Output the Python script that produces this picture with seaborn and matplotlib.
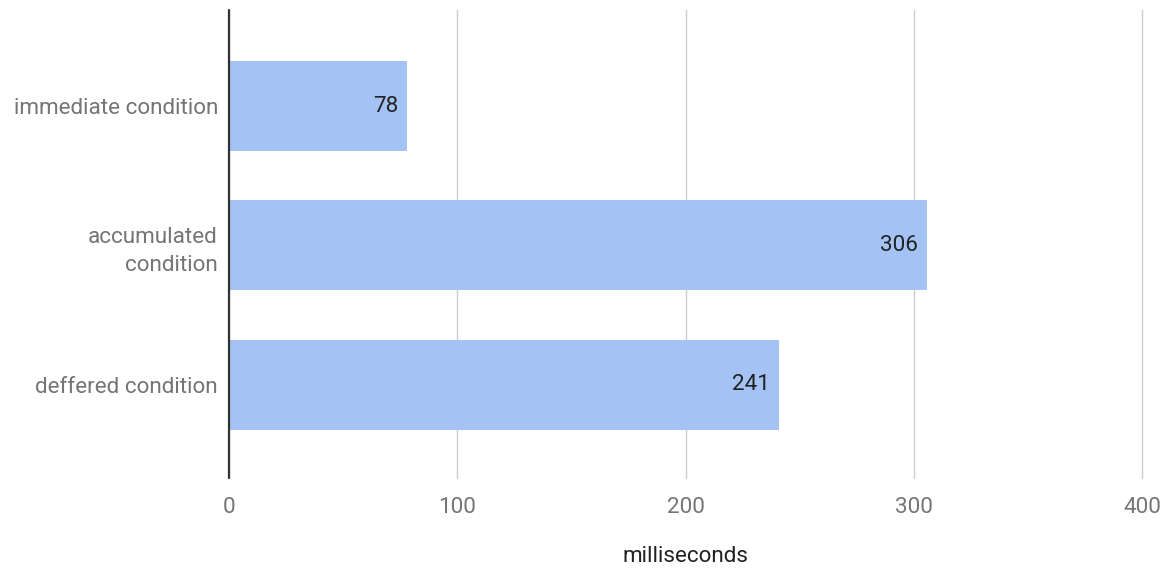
import matplotlib
matplotlib.use("Agg")
import matplotlib.pyplot as plt
import seaborn as sns
import pandas as pd

categories = ["immediate condition", "accumulated\ncondition", "deffered condition"]
values = [78, 306, 241]
xticks = [0, 100, 200, 300, 400]

sns.set_theme(style="white")
plt.rcParams['font.family'] = ['Roboto', 'DejaVu Sans']

df = pd.DataFrame({"cat": categories, "ms": values})

fig = plt.figure(figsize=(11.65, 5.76), dpi=100)
ax = fig.add_axes([229/1165, 1-478/576, (1142-229)/1165, (478-10)/576])

sns.barplot(data=df, x="ms", y="cat", color="#a4c2f4", saturation=1, width=0.645, ax=ax, zorder=2)
for p in ax.patches:
    p.set_edgecolor("none")

for i, v in enumerate(values):
    ax.text(v - 4, i, str(v), ha="right", va="center", fontsize=16.2, color="#222222", zorder=3)

ax.set_xlim(0, 400)
ax.set_ylim(2.67, -0.69)
ax.set_xticks(xticks)
ax.set_xticklabels([str(t) for t in xticks])
ax.xaxis.grid(True, color="#cccccc", linewidth=1.0, zorder=0)
for gl in ax.get_xgridlines():
    gl.set_clip_on(False)
ax.axvline(0, color="#333333", linewidth=1.6, zorder=4, clip_on=False)
for s in ax.spines.values():
    s.set_visible(False)
ax.tick_params(axis="both", length=0, labelsize=16.2, labelcolor="#757575")
ax.tick_params(axis="x", pad=14)
ax.tick_params(axis="y", pad=8)
for lbl in ax.get_yticklabels():
    lbl.set_horizontalalignment("right")
    lbl.set_multialignment("right")
    lbl.set_linespacing(1.45)
ax.set_ylabel("")
ax.set_xlabel("milliseconds", fontsize=16.2, color="#222222", labelpad=20)

fig.savefig("out.png", dpi=100)
